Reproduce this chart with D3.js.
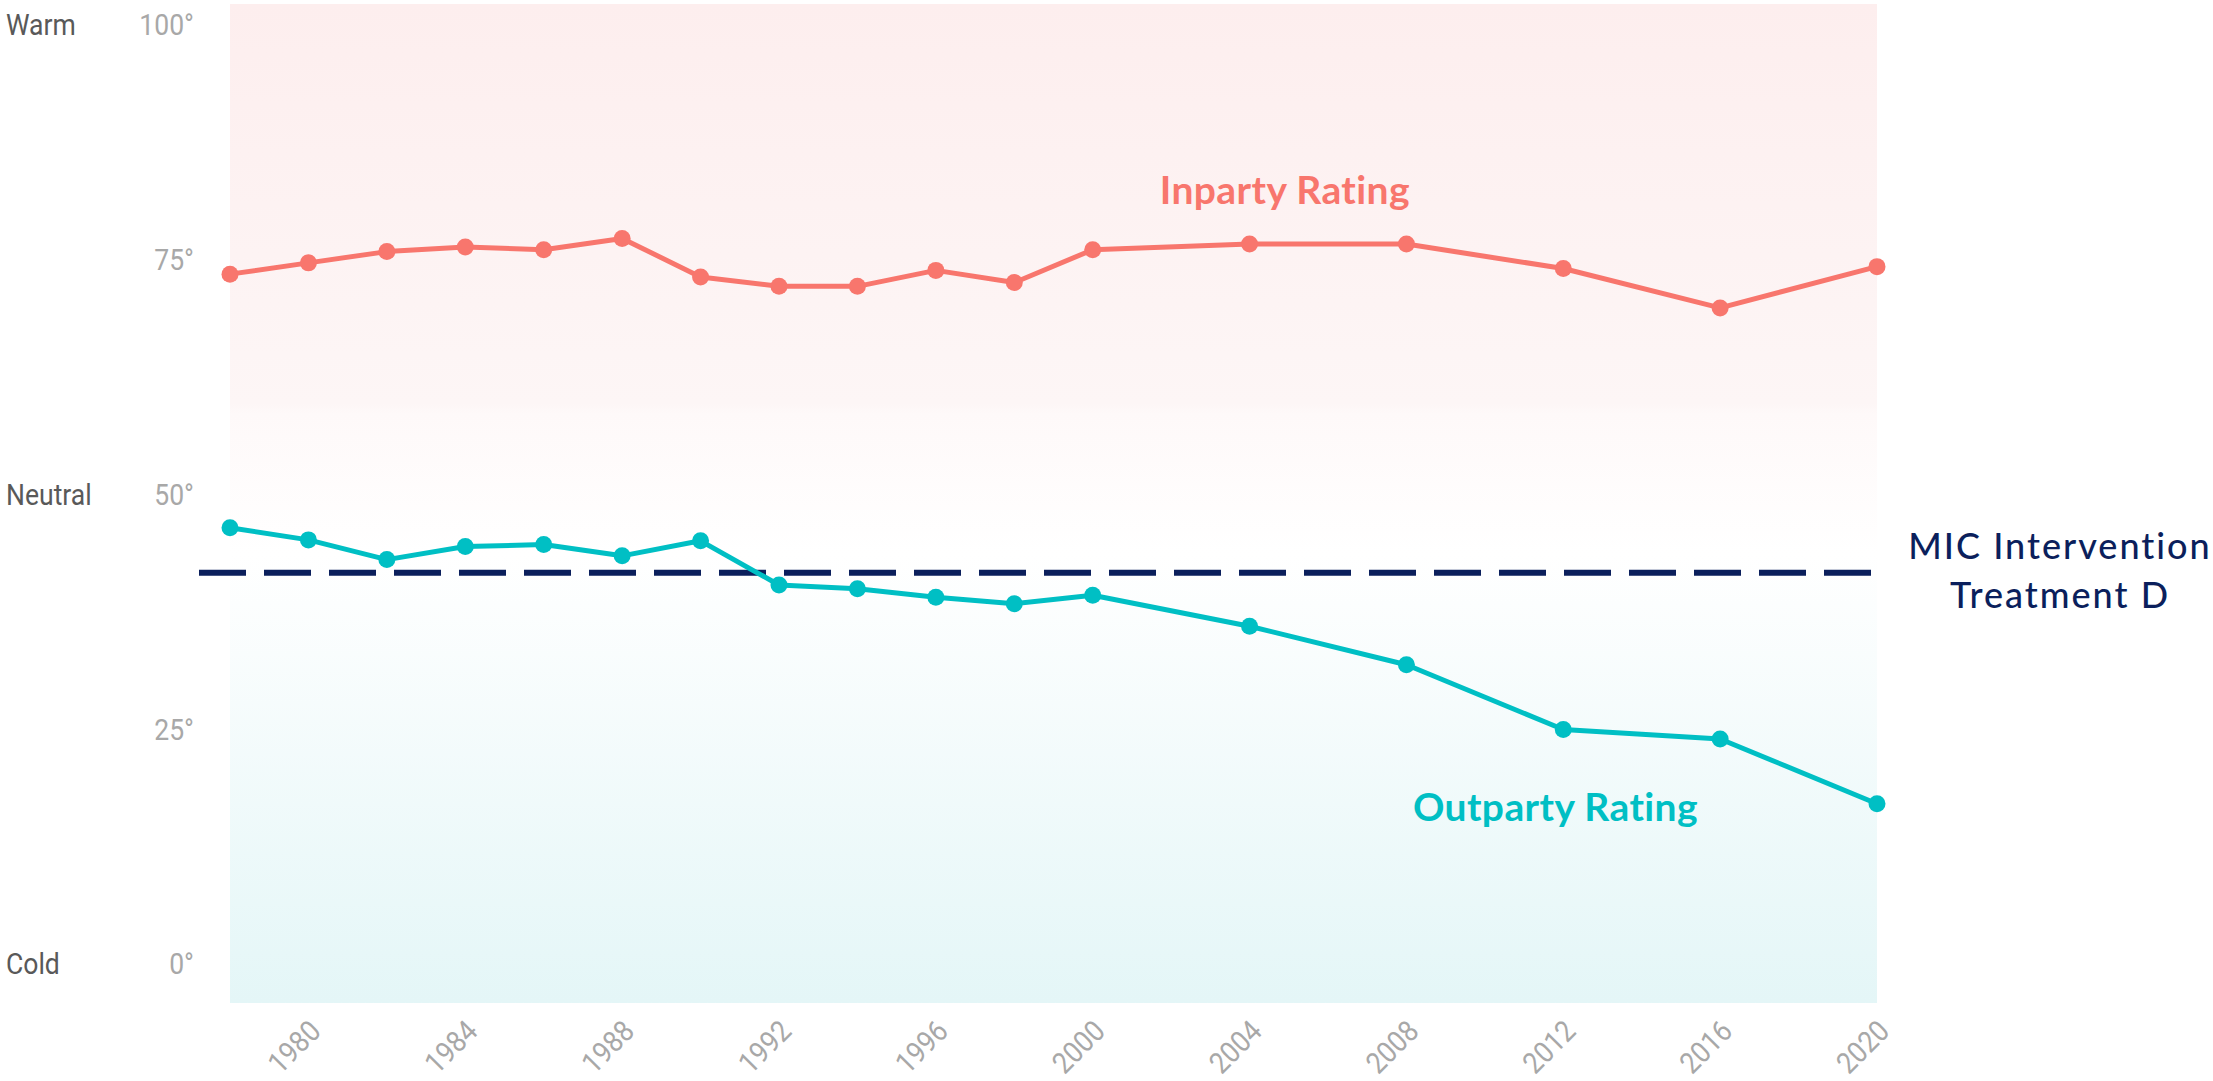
<!DOCTYPE html>
<html>
<head>
<meta charset="utf-8">
<script src="https://cdn.jsdelivr.net/npm/d3@7"></script>
<style>
  body { margin: 0; background: #fff; }
  svg { display: block; }
</style>
</head>
<body>
<svg id="chart" width="2213" height="1081"></svg>
<script>
let years = [1978, 1980, 1982, 1984, 1986, 1988, 1990, 1992, 1994, 1996, 1998, 2000, 2004, 2008, 2012, 2016, 2020]
let inparty = [74.0, 75.2, 76.4, 76.9, 76.6, 77.8, 73.7, 72.7, 72.7, 74.4, 73.1, 76.6, 77.2, 77.2, 74.6, 70.4, 74.8]
let outparty = [47.0, 45.7, 43.6, 45.0, 45.2, 44.0, 45.6, 40.9, 40.5, 39.6, 38.9, 39.8, 36.5, 32.4, 25.5, 24.5, 17.6]
let micValue = 42.2
let xTicks = [1980, 1984, 1988, 1992, 1996, 2000, 2004, 2008, 2012, 2016, 2020]
let yTicks = [0, 25, 50, 75, 100]
let yWords = [
  {v: 100, text: "Warm"},
  {v: 50, text: "Neutral"},
  {v: 0, text: "Cold"}
]

let inColor = "#f8766d"
let outColor = "#00bfc4"
let navy = "#0b1f5c"

let svg = d3.select("#chart")

let x = d3.scaleLinear().domain([1978, 2020]).range([230, 1877])
let y = d3.scaleLinear().domain([0, 100]).range([969, 30])

// panel background, warm at top to cold at bottom
let defs = svg.append("defs")
let grad = defs.append("linearGradient")
  .attr("id", "bg")
  .attr("x1", 0).attr("y1", 0)
  .attr("x2", 0).attr("y2", 1)
grad.append("stop").attr("offset", "0").attr("stop-color", "#fdeeee")
grad.append("stop").attr("offset", "0.4").attr("stop-color", "#fdf6f6")
grad.append("stop").attr("offset", "0.41").attr("stop-color", "#fef9f9")
grad.append("stop").attr("offset", "0.55").attr("stop-color", "#ffffff")
grad.append("stop").attr("offset", "1").attr("stop-color", "#e4f6f7")

svg.append("rect")
  .attr("x", x(1978))
  .attr("y", 4)
  .attr("width", x(2020) - x(1978))
  .attr("height", 999)
  .style("fill", "url(#bg)")

// y axis labels
svg.selectAll(".ylab")
  .data(yTicks)
  .enter()
  .append("text")
  .attr("transform", d => "translate(194," + (y(d) - 5) + ") scale(0.9,1)")
  .attr("dy", "0.355em")
  .attr("text-anchor", "end")
  .style("font-family", "Roboto")
  .style("font-size", "29.5px")
  .style("fill", "#a8a8a8")
  .text(d => d + "°")

svg.selectAll(".yword")
  .data(yWords)
  .enter()
  .append("text")
  .attr("transform", d => "translate(6," + (y(d.v) - 5) + ") scale(0.9,1)")
  .attr("dy", "0.355em")
  .style("font-family", "Roboto")
  .style("font-size", "29.5px")
  .style("fill", "#595959")
  .text(d => d.text)

// x axis labels, rotated
svg.selectAll(".xlab")
  .data(xTicks)
  .enter()
  .append("text")
  .attr("transform", d => "translate(" + (x(d) + 14) + ",1033) rotate(-45) scale(0.9,1)")
  .attr("text-anchor", "end")
  .style("font-family", "Roboto")
  .style("font-size", "29.5px")
  .style("fill", "#a8a8a8")
  .text(d => d)

// MIC reference line
svg.append("line")
  .attr("x1", x(1978) - 31)
  .attr("x2", x(2020) + 10)
  .attr("y1", y(micValue))
  .attr("y2", y(micValue))
  .style("stroke", navy)
  .style("stroke-width", 6)
  .style("stroke-dasharray", "47 18")

let mic = svg.append("text")
  .attr("x", x(2020) + 183)
  .attr("y", y(micValue) - 14)
  .attr("text-anchor", "middle")
  .style("font-family", "Lato")
  .style("font-weight", 500)
  .style("font-size", "36px")
  .style("letter-spacing", "2px")
  .style("fill", navy)
mic.append("tspan").attr("x", x(2020) + 183).text("MIC Intervention")
mic.append("tspan").attr("x", x(2020) + 183).attr("dy", 49).text("Treatment D")

// series
let series = [
  {name: "Inparty Rating", values: inparty, color: inColor, labelYear: 2004.9, labelValue: 81.5},
  {name: "Outparty Rating", values: outparty, color: outColor, labelYear: 2011.8, labelValue: 15.8}
]

let line = d3.line()
  .x((d, i) => x(years[i]))
  .y(d => y(d))

series.forEach(s => {
  svg.append("path")
    .attr("d", line(s.values))
    .style("fill", "none")
    .style("stroke", s.color)
    .style("stroke-width", 5)
    .style("stroke-linejoin", "round")

  svg.selectAll(null)
    .data(s.values)
    .enter()
    .append("circle")
    .attr("cx", (d, i) => x(years[i]))
    .attr("cy", d => y(d))
    .attr("r", 8.5)
    .style("fill", s.color)

  svg.append("text")
    .attr("x", x(s.labelYear))
    .attr("y", y(s.labelValue))
    .attr("text-anchor", "middle")
    .style("font-family", "Lato")
    .style("font-weight", 700)
    .style("font-size", "39px")
    .style("letter-spacing", "0.4px")
    .style("fill", s.color)
    .text(s.name)
})
</script>
</body>
</html>
